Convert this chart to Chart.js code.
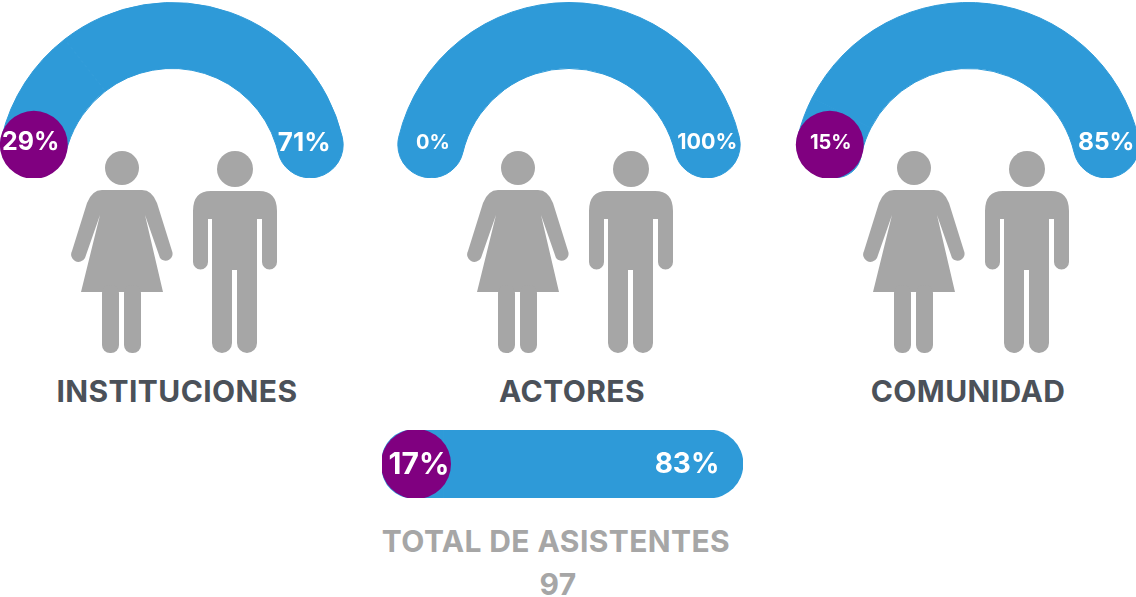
<!DOCTYPE html>
<html lang="es">

<head>
    <meta charset="UTF-8">
    <title>Total de asistentes</title>
    <script src="https://cdn.jsdelivr.net/npm/chart.js"></script>
    <style>
        body { margin: 0; background: #fff; width: 1136px; height: 597px; overflow: hidden; position: relative; font-family: Inter, "Liberation Sans", sans-serif; }
        canvas { position: absolute; }
        .title { position: absolute; transform: translateX(-50%); white-space: nowrap; font-weight: 700; font-size: 30px; letter-spacing: 0.4px; line-height: 34px; }
        svg { position: absolute; left: 0; top: 0; }
    </style>
</head>

<body>
    <svg width="1136" height="597">
        <defs>
            <g id="people" fill="#a6a6a6">
                <circle cx="122" cy="168" r="17" />
                <path d="M102 190 H142 Q152 190 157 203 L172 251 A7 7 0 0 1 160 258 L145 215 L163 292 H81 L100 215 L85 258 A7 7 0 0 1 72 251 L87 203 Q92 190 102 190 Z" />
                <rect x="102" y="285" width="17" height="68" rx="8" />
                <rect x="124" y="285" width="17" height="68" rx="8" />
                <circle cx="235" cy="169" r="18" />
                <path d="M209 191 H259 Q277 191 277 211 V262 A7.5 7.5 0 0 1 262 262 V219 H257 V343 A10 10 0 0 1 237 343 V270 H232 V343 A10 10 0 0 1 212 343 V219 H208 V262 A7.5 7.5 0 0 1 193 262 V211 Q193 191 211 191 Z" />
            </g>
        </defs>
        <use href="#people" />
        <use href="#people" x="396" />
        <use href="#people" x="792" />
    </svg>

    <canvas id="arc0" width="352" height="176" style="left:-4px; top:2px;"></canvas>
    <canvas id="arc1" width="352" height="176" style="left:393px; top:2px;"></canvas>
    <canvas id="arc2" width="352" height="176" style="left:792px; top:2px;"></canvas>
    <canvas id="totalBar" width="361" height="68" style="left:382px; top:430px;"></canvas>

    <div class="title" id="title0" style="left:177px; top:374px; color:#4b5159;"></div>
    <div class="title" id="title1" style="left:572px; top:374px; color:#4b5159;"></div>
    <div class="title" id="title2" style="left:968px; top:374px; color:#4b5159;"></div>
    <div class="title" id="totalTitle" style="left:556px; top:524px; color:#a6a6a6;"></div>
    <div class="title" id="totalCount" style="left:558px; top:567px; color:#a6a6a6;"></div>

    <script>
        const groups = ['INSTITUCIONES', 'ACTORES', 'COMUNIDAD'];
        const purpleShare = [29, 0, 15];
        const blueShare = [71, 100, 85];

        const totalLabel = 'TOTAL DE ASISTENTES';
        const totalCount = 97;
        const totalPurple = 17;
        const totalBlue = 83;

        const BLUE = '#2e9ad8';
        const PURPLE = '#800080';
        const CAP = 33;

        // label font size and x nudge for each chart: [left, right]
        const labelSizes = [[25, 26], [20, 21.5], [20, 24.5]];
        const labelNudges = [[-3, -6], [2, 0], [1, 0]];

        function labelText(ctx, text, x, y, size) {
            ctx.save();
            ctx.fillStyle = '#fff';
            ctx.font = '700 ' + size + 'px Inter, "Liberation Sans", sans-serif';
            ctx.textAlign = 'center';
            ctx.textBaseline = 'middle';
            ctx.fillText(text, x, y);
            ctx.restore();
        }

        // purple cap and the two percentages sit on the round ends of the arc
        const arcCaps = {
            id: 'arcCaps',
            afterDatasetsDraw(chart, args, opts) {
                const ctx = chart.ctx;
                const arcs = chart.getDatasetMeta(0).data;
                const first = arcs[0], last = arcs[1];
                const mid = (first.innerRadius + first.outerRadius) / 2;
                const step = CAP / mid;
                const left = first.startAngle + step;
                const right = last.endAngle - step;
                const lx = first.x + mid * Math.cos(left), ly = first.y + mid * Math.sin(left);
                const rx = first.x + mid * Math.cos(right), ry = first.y + mid * Math.sin(right);
                if (opts.purple > 0) {
                    ctx.save();
                    ctx.fillStyle = PURPLE;
                    ctx.beginPath();
                    ctx.arc(lx, ly, CAP + 1, 0, Math.PI * 2);
                    ctx.fill();
                    ctx.restore();
                }
                labelText(ctx, opts.purple + '%', lx + opts.nudge[0], ly - 2, opts.sizes[0]);
                labelText(ctx, opts.blue + '%', rx + opts.nudge[1], ry - 2, opts.sizes[1]);
            }
        };

        groups.forEach((name, i) => {
            document.getElementById('title' + i).textContent = name;
            const shares = [purpleShare[i], blueShare[i]];
            new Chart(document.getElementById('arc' + i), {
                type: 'doughnut',
                plugins: [arcCaps],
                data: {
                    labels: ['Purple', 'Blue'],
                    datasets: [{
                        data: shares,
                        backgroundColor: BLUE,
                        // same colour border hides the seam between the two slices
                        borderColor: BLUE,
                        borderWidth: 1,
                        // only the outer ends of the arc are rounded
                        borderRadius: c => ({
                            outerStart: (c.dataIndex === 0 || shares[0] === 0) ? CAP : 0,
                            innerStart: (c.dataIndex === 0 || shares[0] === 0) ? CAP : 0,
                            outerEnd: c.dataIndex === 1 ? CAP : 0,
                            innerEnd: c.dataIndex === 1 ? CAP : 0
                        })
                    }]
                },
                options: {
                    responsive: false,
                    animation: false,
                    rotation: -90,
                    circumference: 180,
                    cutout: '62.3%',
                    plugins: {
                        legend: { display: false },
                        tooltip: { enabled: false },
                        arcCaps: { purple: purpleShare[i], blue: blueShare[i], sizes: labelSizes[i], nudge: labelNudges[i] }
                    }
                }
            });
        });

        const barCaps = {
            id: 'barCaps',
            afterDatasetsDraw(chart) {
                const ctx = chart.ctx;
                const first = chart.getDatasetMeta(0).data[0];
                const last = chart.getDatasetMeta(1).data[0];
                const r = first.height / 2;
                const left = first.base;
                ctx.save();
                ctx.fillStyle = PURPLE;
                ctx.beginPath();
                ctx.arc(left + r, first.y, r + 1, 0, Math.PI * 2);
                ctx.fill();
                ctx.restore();
                labelText(ctx, totalPurple + '%', left + 37, first.y + 1, 30);
                labelText(ctx, totalBlue + '%', last.x - 56, last.y + 1, 28);
            }
        };

        new Chart(document.getElementById('totalBar'), {
            type: 'bar',
            plugins: [barCaps],
            data: {
                labels: ['Total'],
                datasets: [
                    { data: [totalPurple], backgroundColor: BLUE, borderWidth: 0, borderSkipped: false, borderRadius: { topLeft: 34, bottomLeft: 34 } },
                    { data: [totalBlue], backgroundColor: BLUE, borderWidth: 0, borderSkipped: false, borderRadius: { topRight: 34, bottomRight: 34 } }
                ]
            },
            options: {
                indexAxis: 'y',
                responsive: false,
                animation: false,
                barPercentage: 1,
                categoryPercentage: 1,
                scales: {
                    x: { display: false, stacked: true, min: 0, max: 100 },
                    y: { display: false, stacked: true }
                },
                plugins: {
                    legend: { display: false },
                    tooltip: { enabled: false }
                }
            }
        });

        document.getElementById('totalTitle').textContent = totalLabel;
        document.getElementById('totalCount').textContent = totalCount;
    </script>
</body>

</html>
